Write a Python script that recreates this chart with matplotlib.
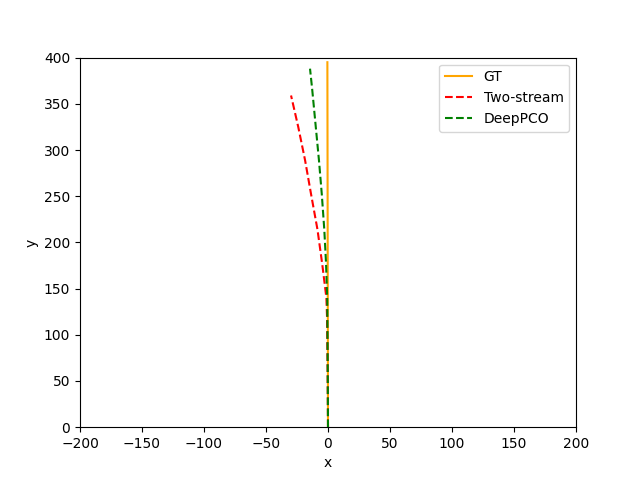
import matplotlib
matplotlib.use("Agg")
import matplotlib.pyplot as plt

# trajectories
gt_x = [0, -0.1, -0.2, -0.3, -0.4, -0.5]
gt_y = [0, 80, 160, 240, 320, 395]

two_x = [0, -0.3, -0.8, -1.3, -4.6, -8.5, -13.5, -18.5, -24, -29.8]
two_y = [0, 60, 120, 140, 176, 214, 251, 289, 325, 359]

deep_x = [0, -0.2, -0.6, -1.6, -3.0, -5.0, -7.3, -10.0, -12.7, -14.5]
deep_y = [0, 60, 138, 178, 214, 252, 289, 327, 365, 388]

plt.figure()
plt.plot(gt_x, gt_y, color="orange", label="GT")
plt.plot(two_x, two_y, color="red", linestyle="--", label="Two-stream")
plt.plot(deep_x, deep_y, color="green", linestyle="--", label="DeepPCO")

plt.xlim(-200, 200)
plt.ylim(0, 400)
plt.xlabel("x")
plt.ylabel("y")
plt.legend(loc="upper right")
plt.savefig("out.png")
